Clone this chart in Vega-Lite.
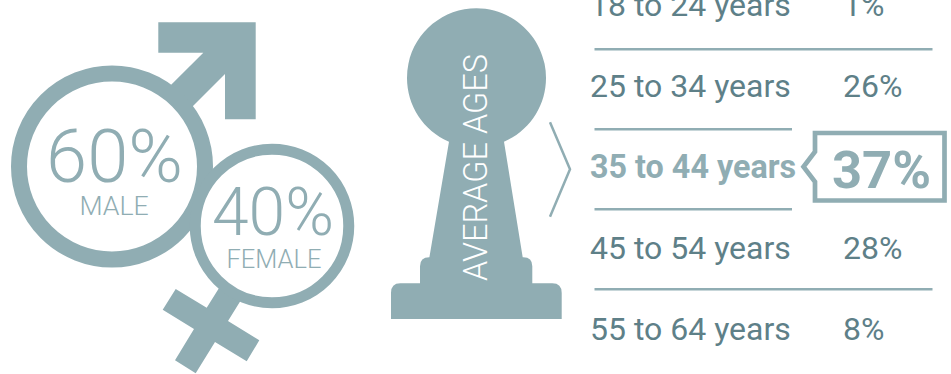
{
  "$schema": "https://vega.github.io/schema/vega-lite/v6.json",
  "width": 951,
  "height": 374,
  "padding": 0,
  "autosize": {"type": "none"},
  "background": "white",
  "config": {"view": {"stroke": null}, "text": {"font": "Roboto"}},
  "datasets": {
    "gender": [
      {"sex": "MALE", "share": 0.6},
      {"sex": "FEMALE", "share": 0.4}
    ],
    "ages": [
      {"band": "18 to 24 years", "share": 0.01, "rule": "full"},
      {"band": "25 to 34 years", "share": 0.26, "rule": "short"},
      {"band": "35 to 44 years", "share": 0.37, "rule": "short"},
      {"band": "45 to 54 years", "share": 0.28, "rule": "full"},
      {"band": "55 to 64 years", "share": 0.08, "rule": "none"}
    ],
    "heading": [{"title": "AVERAGE AGES"}]
  },
  "layer": [
    {
      "description": "Arrow and cross of the two gender symbols",
      "data": {"name": "gender"},
      "mark": {"type": "point", "filled": true, "fill": "#90adb3", "stroke": null, "opacity": 1, "size": 4},
      "encoding": {
        "x": {"field": "sex", "type": "nominal", "axis": null, "scale": {"type": "point", "domain": ["MALE", "FEMALE"], "range": [112, 272], "padding": 0}},
        "y": {"field": "sex", "type": "nominal", "axis": null, "scale": {"type": "point", "domain": ["MALE", "FEMALE"], "range": [166.5, 226], "padding": 0}},
        "shape": {"field": "sex", "type": "nominal", "legend": null, "scale": {"domain": ["MALE", "FEMALE"], "range": [
          "M46.3,-144.2L143.7,-144.2L143.7,-47.2L113,-47.2L113,-92.5L71,-50.5L49.4,-71.9L91.3,-113.8L46.3,-113.8Z",
          "M-49.5,56.5L-65.3,81.7L-96.3,63L-109.3,83.7L-78,103L-97,134.3L-76.3,147.3L-57,116L-25.3,135.3L-12.7,114.3L-44,95L-28.5,70Z"
        ]}}
      }
    },
    {
      "description": "Rings sized by each gender's share",
      "data": {"name": "gender"},
      "mark": {"type": "point", "shape": "circle", "filled": true, "fill": "white", "stroke": "#90adb3", "opacity": 1},
      "encoding": {
        "x": {"field": "sex", "type": "nominal", "axis": null, "scale": {"type": "point", "domain": ["MALE", "FEMALE"], "range": [112, 272], "padding": 0}},
        "y": {"field": "sex", "type": "nominal", "axis": null, "scale": {"type": "point", "domain": ["MALE", "FEMALE"], "range": [166.5, 226], "padding": 0}},
        "size": {"field": "share", "type": "quantitative", "legend": null, "scale": {"domain": [0.4, 0.6], "range": [23562, 34596]}},
        "strokeWidth": {"field": "share", "type": "quantitative", "legend": null, "scale": {"domain": [0.4, 0.6], "range": [11, 16]}}
      }
    },
    {
      "description": "Gender share figures",
      "data": {"name": "gender"},
      "mark": {"type": "text", "font": "Roboto", "fontWeight": 300, "align": "center", "baseline": "alphabetic", "color": "#90adb3"},
      "encoding": {
        "x": {"field": "sex", "type": "nominal", "axis": null, "scale": {"type": "point", "domain": ["MALE", "FEMALE"], "range": [114.5, 273], "padding": 0}},
        "y": {"field": "sex", "type": "nominal", "axis": null, "scale": {"type": "point", "domain": ["MALE", "FEMALE"], "range": [181.7, 235], "padding": 0}},
        "size": {"field": "share", "type": "quantitative", "legend": null, "scale": {"domain": [0.4, 0.6], "range": [66, 74]}},
        "text": {"field": "share", "type": "quantitative", "format": ".0%"}
      }
    },
    {
      "description": "Gender names",
      "data": {"name": "gender"},
      "mark": {"type": "text", "font": "Roboto", "fontWeight": 300, "align": "center", "baseline": "alphabetic", "color": "#90adb3"},
      "encoding": {
        "x": {"field": "sex", "type": "nominal", "axis": null, "scale": {"type": "point", "domain": ["MALE", "FEMALE"], "range": [114, 274], "padding": 0}},
        "y": {"field": "sex", "type": "nominal", "axis": null, "scale": {"type": "point", "domain": ["MALE", "FEMALE"], "range": [215, 267.7], "padding": 0}},
        "size": {"field": "share", "type": "quantitative", "legend": null, "scale": {"domain": [0.4, 0.6], "range": [25.5, 26.7]}},
        "text": {"field": "sex", "type": "nominal"}
      }
    },
    {
      "description": "Pawn silhouette behind the vertical heading",
      "data": {"name": "heading"},
      "mark": {"type": "point", "filled": true, "fill": "#90adb3", "stroke": null, "opacity": 1, "size": 4,
        "shape": "M-27.3,-25.3A69.5,69.5,0,1,1,27.7,-25.3L46.4,90.3L47,90.3Q56,90.3,56,99.3L56,116.3L76,116.3Q85.4,116.3,85.4,126L85.4,152L-85.3,152L-85.3,126Q-85.3,116.3,-76,116.3L-56.3,116.3L-56.3,99.3Q-56.3,90.3,-47,90.3L-46.9,90.3Z"},
      "encoding": {
        "x": {"field": "title", "type": "nominal", "axis": null, "scale": {"type": "point", "domain": ["AVERAGE AGES"], "range": [476.3, 476.3], "padding": 0}},
        "y": {"field": "title", "type": "nominal", "axis": null, "scale": {"type": "point", "domain": ["AVERAGE AGES"], "range": [167, 167], "padding": 0}}
      }
    },
    {
      "description": "Chevron pointing from the pawn to the age table",
      "data": {"name": "heading"},
      "mark": {"type": "point", "filled": false, "fill": null, "stroke": "#90adb3", "strokeWidth": 2.5, "opacity": 1, "size": 4,
        "shape": "M-10,-47.2L10,-0.2L-10,47.2"},
      "encoding": {
        "x": {"field": "title", "type": "nominal", "axis": null, "scale": {"type": "point", "domain": ["AVERAGE AGES"], "range": [560, 560], "padding": 0}},
        "y": {"field": "title", "type": "nominal", "axis": null, "scale": {"type": "point", "domain": ["AVERAGE AGES"], "range": [169.5, 169.5], "padding": 0}}
      }
    },
    {
      "description": "Vertical heading",
      "data": {"name": "heading"},
      "mark": {"type": "text", "font": "Roboto", "fontWeight": 300, "fontSize": 32.5, "angle": 270, "align": "center", "baseline": "alphabetic", "color": "white"},
      "encoding": {
        "x": {"field": "title", "type": "nominal", "axis": null, "scale": {"type": "point", "domain": ["AVERAGE AGES"], "range": [487, 487], "padding": 0}},
        "y": {"field": "title", "type": "nominal", "axis": null, "scale": {"type": "point", "domain": ["AVERAGE AGES"], "range": [167.5, 167.5], "padding": 0}},
        "text": {"field": "title", "type": "nominal"}
      }
    },
    {
      "description": "Full-width separators",
      "data": {"name": "ages"},
      "transform": [{"filter": {"field": "rule", "equal": "full"}}],
      "mark": {"type": "rule", "color": "#90adb3", "strokeWidth": 2.5},
      "encoding": {
        "x": {"datum": 0, "type": "quantitative", "axis": null, "scale": {"domain": [0, 1], "range": [594.5, 932.5]}},
        "x2": {"datum": 1},
        "y": {"field": "band", "type": "nominal", "axis": null, "scale": {"type": "point", "domain": ["18 to 24 years", "25 to 34 years", "35 to 44 years", "45 to 54 years"], "range": [49.3, 289.3], "padding": 0}}
      }
    },
    {
      "description": "Short separators either side of the highlighted row",
      "data": {"name": "ages"},
      "transform": [{"filter": {"field": "rule", "equal": "short"}}],
      "mark": {"type": "rule", "color": "#90adb3", "strokeWidth": 2.5},
      "encoding": {
        "x": {"datum": 0, "type": "quantitative", "axis": null, "scale": {"domain": [0, 1], "range": [594.5, 792]}},
        "x2": {"datum": 1},
        "y": {"field": "band", "type": "nominal", "axis": null, "scale": {"type": "point", "domain": ["18 to 24 years", "25 to 34 years", "35 to 44 years", "45 to 54 years"], "range": [49.3, 289.3], "padding": 0}}
      }
    },
    {
      "description": "Age band names",
      "data": {"name": "ages"},
      "transform": [{"filter": {"not": {"field": "band", "equal": "35 to 44 years"}}}],
      "mark": {"type": "text", "font": "Roboto", "fontSize": 32, "align": "left", "baseline": "alphabetic", "color": "#5e8088"},
      "encoding": {
        "x": {"datum": "band", "type": "nominal", "axis": null, "scale": {"type": "point", "domain": ["band", "share"], "range": [590, 843], "padding": 0}},
        "y": {"field": "band", "type": "nominal", "axis": null, "scale": {"type": "point", "range": [16.3, 340.3], "padding": 0, "domain": ["18 to 24 years", "25 to 34 years", "35 to 44 years", "45 to 54 years", "55 to 64 years"]}},
        "text": {"field": "band", "type": "nominal"}
      }
    },
    {
      "description": "Age band shares",
      "data": {"name": "ages"},
      "transform": [{"filter": {"not": {"field": "band", "equal": "35 to 44 years"}}}],
      "mark": {"type": "text", "font": "Roboto", "fontSize": 32, "align": "left", "baseline": "alphabetic", "color": "#5e8088"},
      "encoding": {
        "x": {"datum": "share", "type": "nominal", "axis": null, "scale": {"type": "point", "domain": ["band", "share"], "range": [590, 843], "padding": 0}},
        "y": {"field": "band", "type": "nominal", "axis": null, "scale": {"type": "point", "range": [16.3, 340.3], "padding": 0, "domain": ["18 to 24 years", "25 to 34 years", "35 to 44 years", "45 to 54 years", "55 to 64 years"]}},
        "text": {"field": "share", "type": "quantitative", "format": ".0%"}
      }
    },
    {
      "description": "Callout round the largest share",
      "data": {"name": "ages"},
      "transform": [{"filter": {"field": "band", "equal": "35 to 44 years"}}],
      "mark": {"type": "point", "filled": false, "fill": null, "stroke": "#90adb3", "strokeWidth": 4.7, "opacity": 1, "size": 4,
        "shape": "M-60,-45.3L69.5,-45.3L69.5,22.2L-60,22.2L-60,3.4L-71.5,-11.6L-60,-26.6Z"},
      "encoding": {
        "x": {"field": "band", "type": "nominal", "axis": null, "scale": {"type": "point", "domain": ["35 to 44 years"], "range": [875, 875], "padding": 0}},
        "y": {"field": "band", "type": "nominal", "axis": null, "scale": {"type": "point", "domain": ["35 to 44 years"], "range": [178.3, 178.3], "padding": 0}}
      }
    },
    {
      "description": "Highlighted band name",
      "data": {"name": "ages"},
      "transform": [{"filter": {"field": "band", "equal": "35 to 44 years"}}],
      "mark": {"type": "text", "font": "Roboto", "fontWeight": "bold", "fontSize": 32.3, "align": "left", "baseline": "alphabetic", "color": "#90adb3"},
      "encoding": {
        "x": {"datum": "band", "type": "nominal", "axis": null, "scale": {"type": "point", "domain": ["band", "share"], "range": [590, 832], "padding": 0}},
        "y": {"field": "band", "type": "nominal", "axis": null, "scale": {"type": "point", "domain": ["35 to 44 years"], "range": [178.3, 178.3], "padding": 0}},
        "text": {"field": "band", "type": "nominal"}
      }
    },
    {
      "description": "Highlighted share",
      "data": {"name": "ages"},
      "transform": [{"filter": {"field": "band", "equal": "35 to 44 years"}}],
      "mark": {"type": "text", "font": "Roboto", "fontWeight": "bold", "fontSize": 52.5, "align": "left", "baseline": "alphabetic", "color": "#90adb3"},
      "encoding": {
        "x": {"datum": "share", "type": "nominal", "axis": null, "scale": {"type": "point", "domain": ["band", "share"], "range": [590, 832], "padding": 0}},
        "y": {"field": "band", "type": "nominal", "axis": null, "scale": {"type": "point", "domain": ["35 to 44 years"], "range": [187.5, 187.5], "padding": 0}},
        "text": {"field": "share", "type": "quantitative", "format": ".0%"}
      }
    }
  ],
  "resolve": {"scale": {"x": "independent", "y": "independent", "size": "independent", "strokeWidth": "independent", "shape": "independent"}}
}
